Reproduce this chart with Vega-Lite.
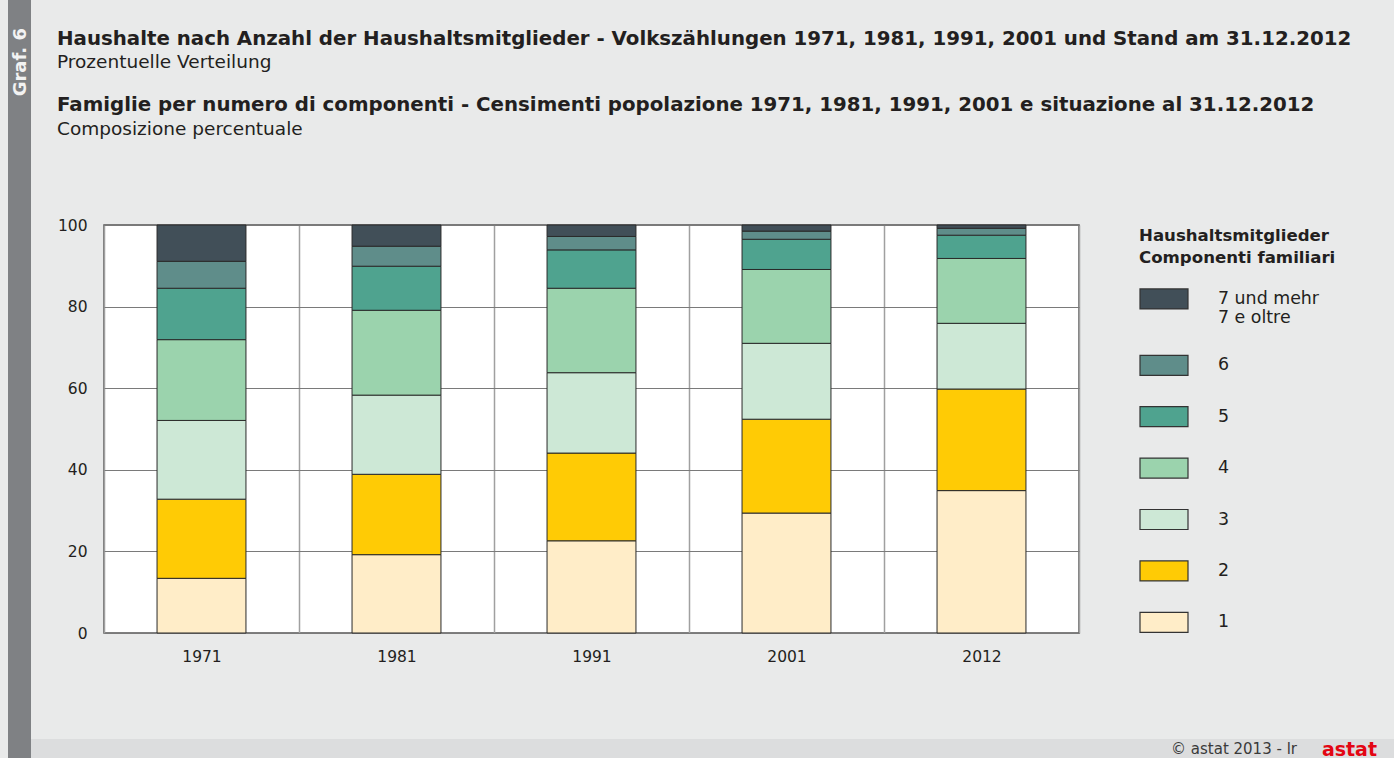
{
  "$schema": "https://vega.github.io/schema/vega-lite/v6.json",
  "background": "#e9eaea",
  "padding": {"left": 8, "top": 0, "right": 0, "bottom": 0},
  "spacing": 0,
  "config": {
    "font": "DejaVu Sans",
    "view": {"stroke": null},
    "title": {
      "anchor": "start",
      "color": "#231f20",
      "font": "DejaVu Sans",
      "fontSize": 19.8,
      "fontWeight": "bold",
      "subtitleFont": "DejaVu Sans",
      "subtitleFontSize": 18.5,
      "subtitleColor": "#231f20",
      "subtitlePadding": 5
    }
  },
  "datasets": {
    "hh": [
      {"year": "1971", "k": "1", "n": 1, "v": 13.4},
      {"year": "1971", "k": "2", "n": 2, "v": 19.4},
      {"year": "1971", "k": "3", "n": 3, "v": 19.3},
      {"year": "1971", "k": "4", "n": 4, "v": 19.8},
      {"year": "1971", "k": "5", "n": 5, "v": 12.6},
      {"year": "1971", "k": "6", "n": 6, "v": 6.6},
      {"year": "1971", "k": "7", "n": 7, "v": 8.9},
      {"year": "1981", "k": "1", "n": 1, "v": 19.2},
      {"year": "1981", "k": "2", "n": 2, "v": 19.7},
      {"year": "1981", "k": "3", "n": 3, "v": 19.4},
      {"year": "1981", "k": "4", "n": 4, "v": 20.8},
      {"year": "1981", "k": "5", "n": 5, "v": 10.8},
      {"year": "1981", "k": "6", "n": 6, "v": 4.9},
      {"year": "1981", "k": "7", "n": 7, "v": 5.2},
      {"year": "1991", "k": "1", "n": 1, "v": 22.6},
      {"year": "1991", "k": "2", "n": 2, "v": 21.5},
      {"year": "1991", "k": "3", "n": 3, "v": 19.7},
      {"year": "1991", "k": "4", "n": 4, "v": 20.7},
      {"year": "1991", "k": "5", "n": 5, "v": 9.4},
      {"year": "1991", "k": "6", "n": 6, "v": 3.3},
      {"year": "1991", "k": "7", "n": 7, "v": 2.8},
      {"year": "2001", "k": "1", "n": 1, "v": 29.4},
      {"year": "2001", "k": "2", "n": 2, "v": 23.0},
      {"year": "2001", "k": "3", "n": 3, "v": 18.6},
      {"year": "2001", "k": "4", "n": 4, "v": 18.1},
      {"year": "2001", "k": "5", "n": 5, "v": 7.4},
      {"year": "2001", "k": "6", "n": 6, "v": 2.0},
      {"year": "2001", "k": "7", "n": 7, "v": 1.5},
      {"year": "2012", "k": "1", "n": 1, "v": 34.9},
      {"year": "2012", "k": "2", "n": 2, "v": 24.9},
      {"year": "2012", "k": "3", "n": 3, "v": 16.1},
      {"year": "2012", "k": "4", "n": 4, "v": 15.9},
      {"year": "2012", "k": "5", "n": 5, "v": 5.7},
      {"year": "2012", "k": "6", "n": 6, "v": 1.7},
      {"year": "2012", "k": "7", "n": 7, "v": 0.8}
    ],
    "footer": [
      {"t": "©  astat 2013 - lr"}
    ],
    "logo": [
      {"t": "astat"}
    ],
    "blank": [
      {"t": ""}
    ]
  },
  "vconcat": [
    {
      "spacing": 0,
      "hconcat": [
        {
          "width": 23,
          "height": 739,
          "view": {"fill": "#7f8184", "stroke": null},
          "title": {
            "text": "Graf. 6",
            "orient": "left",
            "anchor": "end",
            "frame": "group",
            "offset": -22,
            "dx": -28,
            "color": "#f2f2f2",
            "font": "DejaVu Sans",
            "fontSize": 18
          },
          "data": {"name": "blank"},
          "mark": {"type": "point", "opacity": 0}
        },
        {
          "spacing": 21,
          "vconcat": [
            {
              "width": 1290,
              "height": 20,
              "title": {
                "text": "Haushalte nach Anzahl der Haushaltsmitglieder - Volkszählungen 1971, 1981, 1991, 2001 und Stand am 31.12.2012",
                "subtitle": "Prozentuelle Verteilung",
                "orient": "bottom",
                "anchor": "start",
                "frame": "group",
                "offset": 8.5,
                "dx": -47
              },
              "data": {"name": "blank"},
              "mark": {"type": "point", "opacity": 0}
            },
            {
              "width": 975,
              "height": 408,
              "title": {
                "text": "Famiglie per numero di componenti - Censimenti popolazione 1971, 1981, 1991, 2001 e situazione al 31.12.2012",
                "subtitle": "Composizione percentuale",
                "anchor": "start",
                "frame": "group",
                "offset": 80,
                "dx": -47
              },
              "view": {"fill": "#ffffff", "stroke": "#555555", "strokeWidth": 1.5},
              "data": {"name": "hh"},
              "mark": {"type": "bar", "stroke": "#2a2a2a", "strokeWidth": 1, "width": {"band": 0.456}},
              "encoding": {
                "x": {
                  "field": "year",
                  "type": "nominal",
                  "title": null,
                  "scale": {"paddingInner": 0, "paddingOuter": 0},
                  "axis": {
                    "labelAngle": 0,
                    "labelFont": "DejaVu Sans",
                    "labelFontSize": 15.5,
                    "labelColor": "#231f20",
                    "labelPadding": 16,
                    "ticks": false,
                    "tickSize": 0,
                    "domain": false,
                    "grid": true,
                    "tickBand": "extent",
                    "gridColor": "#a0a0a0",
                    "gridWidth": 1.5
                  }
                },
                "y": {
                  "field": "v",
                  "type": "quantitative",
                  "stack": "zero",
                  "title": null,
                  "scale": {"domain": [0, 100], "nice": false},
                  "axis": {
                    "values": [0, 20, 40, 60, 80, 100],
                    "labelFont": "DejaVu Sans",
                    "labelFontSize": 15.5,
                    "labelColor": "#231f20",
                    "labelPadding": 17,
                    "ticks": false,
                    "tickSize": 0,
                    "domain": false,
                    "grid": true,
                    "gridColor": "#7a7a7a",
                    "gridWidth": 1.2,
                    "minExtent": 72
                  }
                },
                "color": {
                  "field": "k",
                  "type": "nominal",
                  "scale": {
                    "domain": ["7", "6", "5", "4", "3", "2", "1"],
                    "range": ["#414f58", "#5f8d8a", "#4fa38f", "#9bd3ad", "#cde8d6", "#ffcb05", "#ffedc8"]
                  },
                  "legend": {
                    "orient": "none",
                    "legendX": 1131,
                    "legendY": 228,
                    "title": ["Haushaltsmitglieder", "Componenti familiari"],
                    "titleFont": "DejaVu Sans",
                    "titleFontSize": 16.6,
                    "titleFontWeight": "bold",
                    "titleColor": "#231f20",
                    "titleLineHeight": 22,
                    "titleLimit": 400,
                    "titlePadding": 7.3,
                    "symbolType": "M-1,-0.4167H1V0.4167H-1Z",
                    "symbolSize": 2304,
                    "symbolStrokeColor": "#333333",
                    "symbolStrokeWidth": 1.2,
                    "symbolOpacity": 1,
                    "labelFont": "DejaVu Sans",
                    "labelFontSize": 17.4,
                    "labelColor": "#231f20",
                    "labelOffset": 29,
                    "labelLimit": 300,
                    "rowPadding": 13.4,
                    "labelExpr": "datum.label == '7' ? ['7 und mehr', '7 e oltre'] : datum.label"
                  }
                },
                "order": {"field": "n", "type": "quantitative", "sort": "ascending"}
              }
            }
          ]
        }
      ]
    },
    {
      "spacing": 0,
      "hconcat": [
        {
          "width": 23,
          "height": 19,
          "view": {"fill": "#7f8184", "stroke": null},
          "data": {"name": "blank"},
          "mark": {"type": "point", "opacity": 0}
        },
        {
          "width": 1363,
          "height": 19,
          "view": {"fill": "#dcddde", "stroke": null},
          "layer": [
            {
              "data": {"name": "footer"},
              "mark": {"type": "text", "align": "right", "baseline": "middle", "dx": -97, "font": "DejaVu Sans", "fontSize": 15, "color": "#3a3a3a"},
              "encoding": {
                "x": {"datum": 1, "type": "quantitative", "scale": {"domain": [0, 1]}, "axis": null},
                "text": {"field": "t"}
              }
            },
            {
              "data": {"name": "logo"},
              "mark": {"type": "text", "align": "right", "baseline": "middle", "dx": -17, "dy": 1, "font": "DejaVu Sans", "fontSize": 19, "fontWeight": "bold", "color": "#e30613"},
              "encoding": {
                "x": {"datum": 1, "type": "quantitative", "scale": {"domain": [0, 1]}, "axis": null},
                "text": {"field": "t"}
              }
            }
          ]
        }
      ]
    }
  ]
}
